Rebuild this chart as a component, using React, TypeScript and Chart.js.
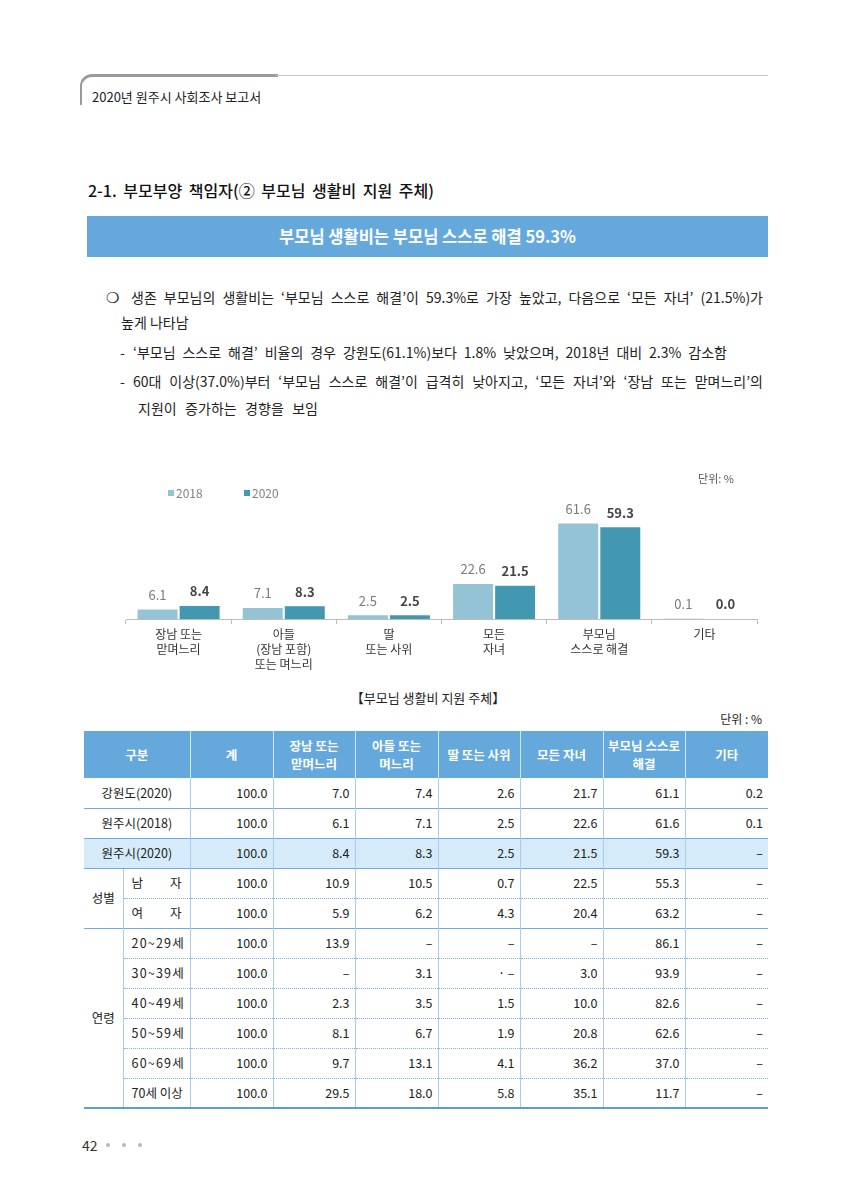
import React, { useEffect, useRef } from "react";
import { Chart, registerables } from "chart.js";

Chart.register(...registerables);

const FONT = '"Noto Sans CJK KR", "Noto Sans", sans-serif';
const NUMFONT = '"Liberation Sans Narrow", "Noto Sans CJK KR", sans-serif';

// ---- chart data ----
const categories: string[][] = [
  ["장남 또는", "맏며느리"],
  ["아들", "(장남 포함)", "또는 며느리"],
  ["딸", "또는 사위"],
  ["모든", "자녀"],
  ["부모님", "스스로 해결"],
  ["기타"],
];
const seriesNames = ["2018", "2020"];
const values2018 = [6.1, 7.1, 2.5, 22.6, 61.6, 0.1];
const values2020 = [8.4, 8.3, 2.5, 21.5, 59.3, 0.0];
const colors = ["#93c3d5", "#4298b0"];

// ---- table data ----
const tableHeaders: string[][] = [
  ["구분"],
  ["계"],
  ["장남 또는", "맏며느리"],
  ["아들 또는", "며느리"],
  ["딸 또는 사위"],
  ["모든 자녀"],
  ["부모님 스스로", "해결"],
  ["기타"],
];
const rowGangwon = ["100.0", "7.0", "7.4", "2.6", "21.7", "61.1", "0.2"];
const rowWonju2018 = ["100.0", "6.1", "7.1", "2.5", "22.6", "61.6", "0.1"];
const rowWonju2020 = ["100.0", "8.4", "8.3", "2.5", "21.5", "59.3", "–"];
const rowMale = ["100.0", "10.9", "10.5", "0.7", "22.5", "55.3", "–"];
const rowFemale = ["100.0", "5.9", "6.2", "4.3", "20.4", "63.2", "–"];
const row20s = ["100.0", "13.9", "–", "–", "–", "86.1", "–"];
const row30s = ["100.0", "–", "3.1", "· –", "3.0", "93.9", "–"];
const row40s = ["100.0", "2.3", "3.5", "1.5", "10.0", "82.6", "–"];
const row50s = ["100.0", "8.1", "6.7", "1.9", "20.8", "62.6", "–"];
const row60s = ["100.0", "9.7", "13.1", "4.1", "36.2", "37.0", "–"];
const row70s = ["100.0", "29.5", "18.0", "5.8", "35.1", "11.7", "–"];

const topRows: [string, string[], boolean][] = [
  ["강원도(2020)", rowGangwon, false],
  ["원주시(2018)", rowWonju2018, false],
  ["원주시(2020)", rowWonju2020, true],
];
const sexRows: [string, string, string[]][] = [
  ["남", "자", rowMale],
  ["여", "자", rowFemale],
];
const ageRows: [string, string[]][] = [
  ["20~29세", row20s],
  ["30~39세", row30s],
  ["40~49세", row40s],
  ["50~59세", row50s],
  ["60~69세", row60s],
  ["70세 이상", row70s],
];

const colWidths = [39, 67, 83, 82, 83, 82, 83, 82, 83];

function BarChart() {
  const ref = useRef<HTMLCanvasElement>(null);
  useEffect(() => {
    if (!ref.current) return;
    const labelPlugin = {
      id: "valueLabels",
      afterDatasetsDraw(chart: any) {
        const ctx = chart.ctx;
        chart.data.datasets.forEach((ds: any, i: number) => {
          const meta = chart.getDatasetMeta(i);
          meta.data.forEach((el: any, j: number) => {
            const v = ds.data[j] as number;
            ctx.save();
            ctx.font = (i === 0 ? "13px " : "bold 13px ") + NUMFONT;
            ctx.fillStyle = i === 0 ? "#7a7a7a" : "#454545";
            ctx.textAlign = "center";
            ctx.textBaseline = "bottom";
            ctx.fillText(v.toFixed(1), el.x, el.y - 8);
            ctx.restore();
          });
        });
      },
      afterDraw(chart: any) {
        const ctx = chart.ctx;
        const a = chart.chartArea;
        ctx.save();
        const offsets = [42, 118];
        chart.data.datasets.forEach((ds: any, i: number) => {
          const x = a.left + offsets[i];
          const y = a.top + 1;
          ctx.fillStyle = ds.backgroundColor;
          ctx.fillRect(x, y - 3, 6, 6);
          ctx.font = "12px " + NUMFONT;
          ctx.fillStyle = "#808080";
          ctx.textAlign = "left";
          ctx.textBaseline = "middle";
          ctx.fillText(ds.label, x + 8, y);
        });
        ctx.font = "11px " + FONT;
        ctx.fillStyle = "#555";
        ctx.textAlign = "right";
        ctx.textBaseline = "middle";
        ctx.fillText("단위: %", a.right - 23, 19);
        ctx.restore();
      },
    };
    const chart = new Chart(ref.current, {
      type: "bar",
      data: {
        labels: categories,
        datasets: [
          {
            label: seriesNames[0],
            data: values2018,
            backgroundColor: colors[0],
            categoryPercentage: 0.8,
            barPercentage: 0.95,
          },
          {
            label: seriesNames[1],
            data: values2020,
            backgroundColor: colors[1],
            categoryPercentage: 0.8,
            barPercentage: 0.95,
          },
        ],
      },
      options: {
        responsive: false,
        animation: false,
        layout: { padding: { top: 32, left: 26, right: 23, bottom: 5 } },
        plugins: {
          legend: { display: false },
          tooltip: { enabled: false },
        },
        scales: {
          y: { display: false, min: 0, max: 82 },
          x: {
            grid: {
              display: true,
              drawOnChartArea: false,
              drawTicks: true,
              tickLength: 5,
              color: "#bdbdbd",
              offset: true,
            },
            border: { display: true, color: "#bdbdbd" },
            ticks: {
              color: "#333",
              padding: 3,
              autoSkip: false,
              maxRotation: 0,
              font: { size: 12, family: FONT, lineHeight: 1.25 },
            },
          },
        },
      },
      plugins: [labelPlugin],
    });
    return () => chart.destroy();
  }, []);
  return (
    <canvas
      ref={ref}
      width={680}
      height={220}
      style={{ position: "absolute", left: 100, top: 460, width: 680, height: 220 }}
    />
  );
}

const abs = (left: number, top: number, extra: React.CSSProperties = {}): React.CSSProperties => ({
  position: "absolute",
  left,
  top,
  whiteSpace: "nowrap",
  ...extra,
});

const justify = (width: number): React.CSSProperties => ({
  width,
  textAlign: "justify",
  textAlignLast: "justify" as any,
  whiteSpace: "normal",
});

const blueLine = "1px solid #72a9da";
const dotLine = "1px dotted #7fb0e0";
const vLine = "1px solid #a9cdec";
const ROW_H = 30;

function numCells(vals: string[], top: string, bg?: string) {
  return vals.map((v, i) => (
    <td
      key={i}
      style={{
        textAlign: "right",
        paddingRight: 5,
        borderTop: top,
        borderLeft: vLine,
        background: bg,
        fontFamily: NUMFONT,
        lineHeight: "16px",
      }}
    >
      {v}
    </td>
  ));
}

function DataTable() {
  const cellBase: React.CSSProperties = { padding: 0, lineHeight: "16px" };
  return (
    <table
      style={{
        position: "absolute",
        left: 84,
        top: 731,
        width: 684,
        borderCollapse: "collapse",
        tableLayout: "fixed",
        fontFamily: FONT,
        fontSize: 12.5,
        color: "#222",
        borderBottom: "2px solid #5d9dd6",
      }}
    >
      <colgroup>
        {colWidths.map((w, i) => (
          <col key={i} style={{ width: w }} />
        ))}
      </colgroup>
      <thead>
        <tr style={{ height: 47 }}>
          {tableHeaders.map((h, i) => (
            <th
              key={i}
              colSpan={i === 0 ? 2 : 1}
              style={{
                background: "#65a8dc",
                color: "#fff",
                fontWeight: 700,
                fontSize: 12.5,
                lineHeight: "18px",
                padding: 0,
                borderLeft: i === 0 ? "none" : "1px solid #d4e6f6",
              }}
            >
              {h.map((t, k) => (
                <div key={k}>{t}</div>
              ))}
            </th>
          ))}
        </tr>
      </thead>
      <tbody>
        {topRows.map(([label, vals, hl], r) => (
          <tr key={"t" + r} style={{ height: ROW_H }}>
            <td
              colSpan={2}
              style={{
                ...cellBase,
                textAlign: "center",
                borderTop: r === 0 ? "none" : blueLine,
                background: hl ? "#d5ebf9" : undefined,
              }}
            >
              {label}
            </td>
            {numCells(vals, r === 0 ? "none" : blueLine, hl ? "#d5ebf9" : undefined)}
          </tr>
        ))}
        {sexRows.map(([a, b, vals], r) => (
          <tr key={"s" + r} style={{ height: ROW_H }}>
            {r === 0 && (
              <td rowSpan={2} style={{ ...cellBase, textAlign: "center", borderTop: blueLine }}>
                성별
              </td>
            )}
            <td style={{ ...cellBase, borderTop: r === 0 ? blueLine : dotLine, borderLeft: vLine }}>
              <div style={{ display: "flex", justifyContent: "space-between", padding: "0 8px 0 8px" }}>
                <span>{a}</span>
                <span>{b}</span>
              </div>
            </td>
            {numCells(vals, r === 0 ? blueLine : dotLine)}
          </tr>
        ))}
        {ageRows.map(([a, vals], r) => (
          <tr key={"a" + r} style={{ height: ROW_H }}>
            {r === 0 && (
              <td rowSpan={6} style={{ ...cellBase, textAlign: "center", borderTop: blueLine }}>
                연령
              </td>
            )}
            <td
              style={{
                ...cellBase,
                borderTop: r === 0 ? blueLine : dotLine,
                borderLeft: vLine,
                paddingLeft: 8,
                letterSpacing: r < 5 ? 1.2 : 0,
                fontFamily: NUMFONT,
              }}
            >
              {a}
            </td>
            {numCells(vals, r === 0 ? blueLine : dotLine)}
          </tr>
        ))}
      </tbody>
    </table>
  );
}

export default function App() {
  const body: React.CSSProperties = { fontFamily: FONT, fontSize: 14, color: "#222", lineHeight: "20px" };
  return (
    <div style={{ position: "absolute", left: 0, top: 0, width: 848, height: 1200, background: "#fff", fontFamily: FONT }}>
      {/* running header */}
      <div
        style={{
          position: "absolute",
          left: 80,
          top: 74,
          width: 196,
          height: 28,
          borderTop: "3px solid #9a9a9a",
          borderLeft: "2px solid #9a9a9a",
          borderTopLeftRadius: 12,
        }}
      />
      <div style={{ position: "absolute", left: 276, top: 75, width: 492, height: 0, borderTop: "1.5px solid #c4c4c4" }} />
      <div style={abs(92, 88, { fontSize: 13, color: "#222", lineHeight: "18px" })}>2020년 원주시 사회조사 보고서</div>

      {/* section title */}
      <div style={abs(88, 179, { fontSize: 16, fontWeight: 500, color: "#111", lineHeight: "22px", wordSpacing: 3 })}>
        2-1. 부모부양 책임자(② 부모님 생활비 지원 주체)
      </div>

      {/* banner */}
      <div
        style={{
          position: "absolute",
          left: 87,
          top: 216,
          width: 681,
          height: 41,
          background: "#65a9dc",
          color: "#fff",
          fontWeight: 700,
          fontSize: 16.5,
          lineHeight: "41px",
          textAlign: "center",
        }}
      >
        부모님 생활비는 부모님 스스로 해결 59.3%
      </div>

      {/* bullet text */}
      <div style={abs(106, 287, { ...body, fontSize: 15 })}>❍</div>
      <div style={abs(131, 287, { ...body, ...justify(632) })}>
        생존 부모님의 생활비는 ‘부모님 스스로 해결’이 59.3%로 가장 높았고, 다음으로 ‘모든 자녀’ (21.5%)가
      </div>
      <div style={abs(121, 312, body)}>높게 나타남</div>
      <div style={abs(120, 342, body)}>-</div>
      <div style={abs(133, 342, { ...body, ...justify(594) })}>
        ‘부모님 스스로 해결’ 비율의 경우 강원도(61.1%)보다 1.8% 낮았으며, 2018년 대비 2.3% 감소함
      </div>
      <div style={abs(120, 371, body)}>-</div>
      <div style={abs(133, 371, { ...body, ...justify(630) })}>
        60대 이상(37.0%)부터 ‘부모님 스스로 해결’이 급격히 낮아지고, ‘모든 자녀’와 ‘장남 또는 맏며느리’의
      </div>
      <div style={abs(138, 398, { ...body, ...justify(180) })}>지원이 증가하는 경향을 보임</div>

      {/* chart */}
      <BarChart />

      {/* table caption */}
      <div style={{ position: "absolute", left: 0, width: 856, top: 689, textAlign: "center", fontSize: 13, color: "#222", lineHeight: "18px" }}>
        【부모님 생활비 지원 주체】
      </div>
      <div style={{ position: "absolute", left: 600, width: 162, top: 711, textAlign: "right", fontSize: 12, color: "#222", lineHeight: "16px" }}>
        단위 : %
      </div>

      <DataTable />

      {/* page number */}
      <div style={abs(82, 1136, { fontSize: 14, color: "#333", lineHeight: "18px" })}>42</div>
      {[108, 124, 140].map((x) => (
        <div
          key={x}
          style={{ position: "absolute", left: x - 2, top: 1143, width: 4, height: 4, borderRadius: 2, background: "#b8b8b8" }}
        />
      ))}
    </div>
  );
}
